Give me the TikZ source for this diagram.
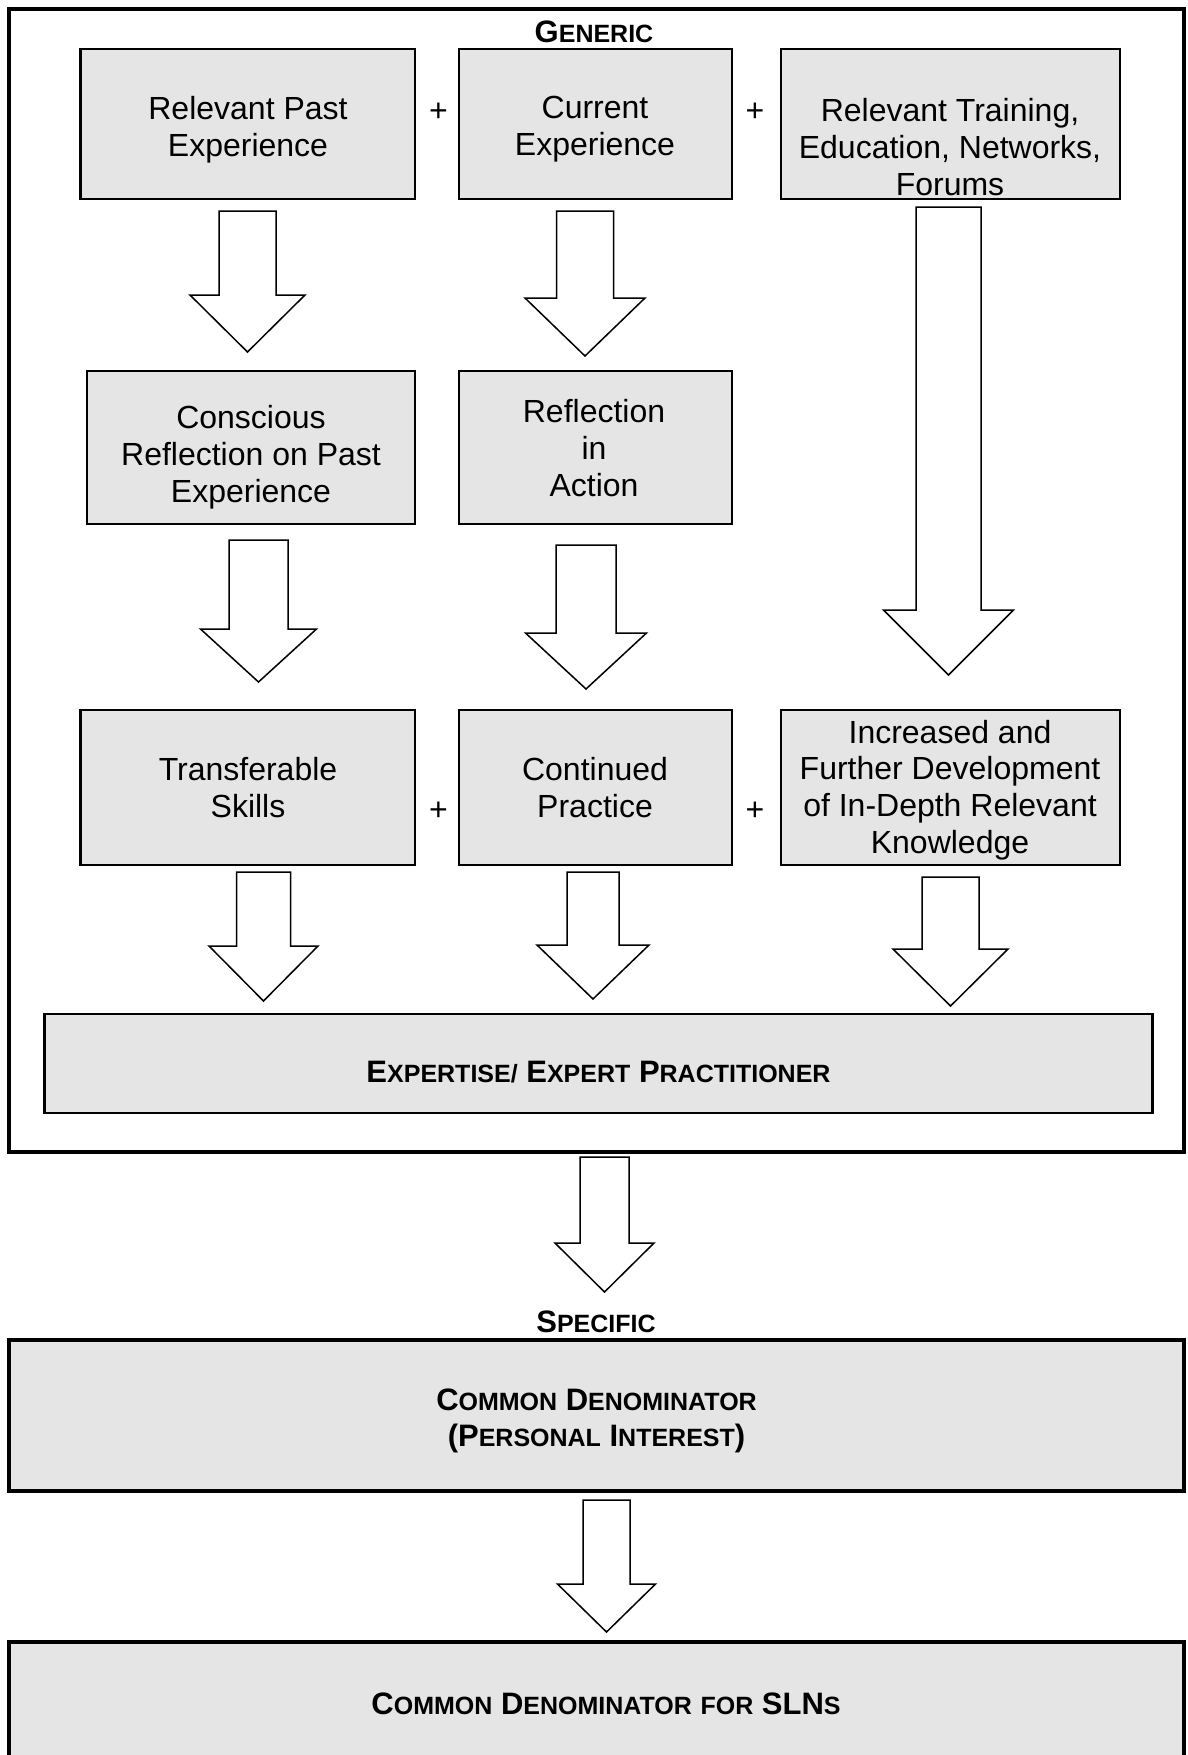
\documentclass[tikz,border=0pt]{standalone}
\usepackage{fontspec}
\setmainfont{Liberation Sans}
\definecolor{boxgray}{RGB}{229,229,229}
\newcommand\SCap[2]{#1{\fontsize{25}{30}\selectfont #2}}
\newcommand\blockarr[6]{%
  \draw[barrow] ({#1-#2},{#3}) -- ({#1+#2},{#3}) -- ({#1+#2},{#4}) -- ({#1+#5},{#4})
    -- ({#1},{#6}) -- ({#1-#5},{#4}) -- ({#1-#2},{#4}) -- cycle;}
\begin{document}
\begin{tikzpicture}[x=1pt,y=-1pt,
  box/.style={draw, line width=2.5pt, fill=boxgray, inner sep=0pt},
  bigbox/.style={draw, line width=3.6pt, fill=boxgray, inner sep=0pt},
  txt/.style={align=center, font=\fontsize{32}{36.8}\selectfont, inner sep=0pt},
  btxt/.style={align=center, font=\bfseries\fontsize{31}{36}\selectfont, inner sep=0pt},
  barrow/.style={draw, line width=1.5pt, fill=white, line join=miter}]
\clip (0,0) rectangle (1187,1755);
\fill[white] (0,0) rectangle (1187,1755);

% outer frame
\node[draw, line width=3.6pt, inner sep=0pt, minimum width=1175pt, minimum height=1143pt] (frame) at (596.5,580.5) {};
\node[btxt] (generic) at (594,32) {\SCap{G}{ENERIC}};

% row 1
\node[box, minimum width=334.5pt, minimum height=150pt] (b1) at (247.75,124) {};
\node[box, minimum width=273pt, minimum height=150pt] (b2) at (595.5,124) {};
\node[box, minimum width=339pt, minimum height=150pt] (b3) at (950.5,124) {};
\node[txt] (t1) at (248,129.5) {Relevant Past\\Experience};
\node[txt] (t2) at (595,129.5) {Current\\Experience};
\node[txt] (t3) at (950,147) {Relevant Training,\\Education, Networks,\\Forums};
\node[txt] (p1) at (438.5,112) {+};
\node[txt] (p2) at (755,112) {+};

% row 2
\node[box, minimum width=328pt, minimum height=153pt] (b4) at (251,447.5) {};
\node[box, minimum width=273pt, minimum height=153pt] (b5) at (595.5,447.5) {};
\node[txt] (t4) at (251,457) {Conscious\\Reflection on Past\\Experience};
\node[txt] (t5) at (594,448) {Reflection\\in\\Action};

% row 3
\node[box, minimum width=334.5pt, minimum height=155pt] (b6) at (247.75,787.5) {};
\node[box, minimum width=273pt, minimum height=155pt] (b7) at (595.5,787.5) {};
\node[box, minimum width=339pt, minimum height=155pt] (b8) at (950.5,787.5) {};
\node[txt] (t6) at (248,787.5) {Transferable\\Skills};
\node[txt] (t7) at (595,787.5) {Continued\\Practice};
\node[txt] (t8) at (950,790) {Increased and\\Further Development\\of In-Depth Relevant\\Knowledge};
\node[txt] (p3) at (438.5,811) {+};
\node[txt] (p4) at (755,811) {+};

% expertise
\node[box, minimum width=1108pt, minimum height=99pt] (ex) at (598.6,1063.5) {};
\node[btxt] (tex) at (598.5,1072) {\SCap{E}{XPERTISE/} \SCap{E}{XPERT} \SCap{P}{RACTITIONER}};

% arrows inside frame
\blockarr{247.5}{28.5}{211}{295}{57.5}{352}
\blockarr{585}{28.5}{211}{298}{60}{356}
\blockarr{948.5}{32.5}{207}{610}{65}{675}
\blockarr{258.5}{29.5}{540}{629}{58}{682}
\blockarr{586}{30}{545}{633}{60.5}{689}
\blockarr{263.5}{27}{872}{946}{54.5}{1001}
\blockarr{593}{26}{872}{945}{56}{999}
\blockarr{950.5}{28.5}{877}{949}{57.5}{1006}

% below frame
\blockarr{604.5}{24.5}{1157}{1243}{49.5}{1292}
\node[btxt] (specific) at (596,1322) {\SCap{S}{PECIFIC}};
\node[bigbox, minimum width=1175pt, minimum height=151pt] (cd1) at (596.5,1415.5) {};
\node[btxt, font=\bfseries\fontsize{31}{35.5}\selectfont] (tcd1) at (596.5,1421) {\SCap{C}{OMMON} \SCap{D}{ENOMINATOR}\\(\SCap{P}{ERSONAL} \SCap{I}{NTEREST})};
\blockarr{606.5}{23.5}{1500}{1584}{49}{1632}
\node[bigbox, minimum width=1175pt, minimum height=168pt] (cd2) at (596.5,1726) {};
\node[btxt] (tcd2) at (606,1704) {\SCap{C}{OMMON} \SCap{D}{ENOMINATOR} {\fontsize{25}{30}\selectfont FOR} SLN{\fontsize{25}{30}\selectfont S}};
\end{tikzpicture}
\end{document}
